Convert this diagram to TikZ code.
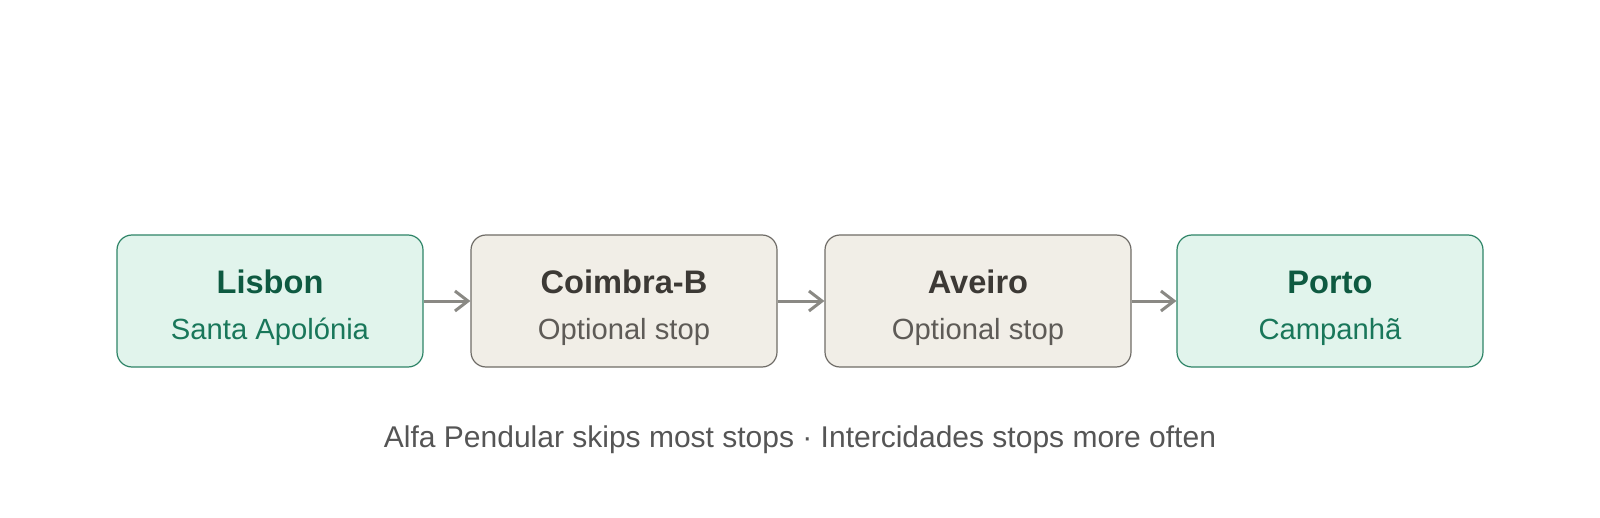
\documentclass[tikz,border=0pt]{standalone}
\usepackage{fontspec}
\setmainfont{Liberation Sans}
\usetikzlibrary{arrows.meta}
\definecolor{gfill}{HTML}{E1F4EC}
\definecolor{gdraw}{HTML}{2E8467}
\definecolor{gtitle}{HTML}{0E5A41}
\definecolor{gsub}{HTML}{19775A}
\definecolor{sfill}{HTML}{F1EEE7}
\definecolor{sdraw}{HTML}{6F6C67}
\definecolor{stitle}{HTML}{3C3935}
\definecolor{ssub}{HTML}{5E5B57}
\definecolor{arr}{HTML}{8A8984}
\definecolor{cap}{HTML}{555555}
\tikzset{
  box/.style={rounded corners=7.5pt, minimum width=153pt, minimum height=66pt, line width=0.6pt, inner sep=0pt},
  endbox/.style={box, draw=gdraw, fill=gfill},
  midbox/.style={box, draw=sdraw, fill=sfill},
  ttl/.style={font=\fontsize{16.3}{19}\selectfont\bfseries, anchor=base},
  sub/.style={font=\fontsize{14.6}{17}\selectfont, anchor=base},
  link/.style={draw=arr, line width=1.5pt, -{Straight Barb[length=6.5pt,width=10pt]}}
}
\begin{document}
\begin{tikzpicture}[x=0.5pt,y=-0.5pt]
\useasboundingbox (0,0) rectangle (1600,518);
\node[endbox] (lis) at (270,301) {};
\node[midbox] (coi) at (624,301) {};
\node[midbox] (ave) at (978,301) {};
\node[endbox] (por) at (1330,301) {};
\node[ttl, text=gtitle] (lisT) at (270,293) {Lisbon};
\node[sub, text=gsub] (lisS) at (270,339) {Santa Apolónia};
\node[ttl, text=stitle] (coiT) at (624,293) {Coimbra-B};
\node[sub, text=ssub] (coiS) at (624,339) {Optional stop};
\node[ttl, text=stitle] (aveT) at (978,293) {Aveiro};
\node[sub, text=ssub] (aveS) at (978,339) {Optional stop};
\node[ttl, text=gtitle] (porT) at (1330,293) {Porto};
\node[sub, text=gsub] (porS) at (1330,339) {Campanhã};
\draw[link] (lis.east) -- (coi.west);
\draw[link] (coi.east) -- (ave.west);
\draw[link] (ave.east) -- (por.west);
\node[font=\fontsize{15}{18}\selectfont, text=cap, anchor=base] (caption) at (800,447) {Alfa Pendular skips most stops · Intercidades stops more often};
\end{tikzpicture}
\end{document}
